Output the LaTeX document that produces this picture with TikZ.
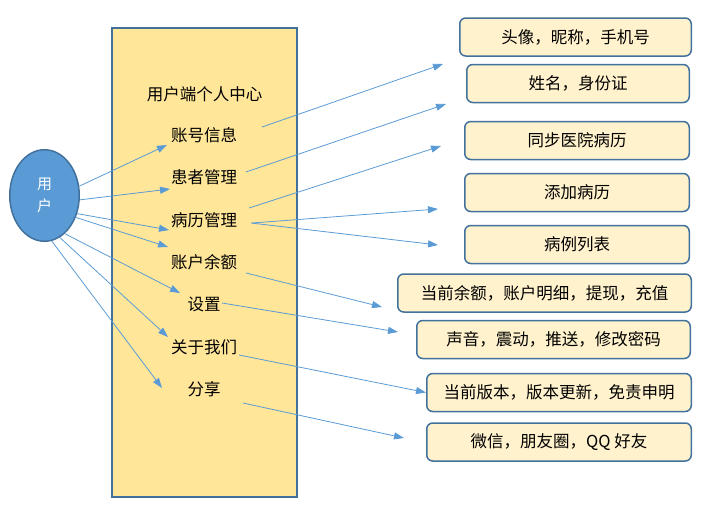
\documentclass[tikz,border=0pt]{standalone}
\usepackage{fontspec}
\newfontfamily\cjk{Noto Sans CJK SC}
\usetikzlibrary{arrows.meta,shapes.geometric}
\definecolor{panelfill}{HTML}{FFE699}
\definecolor{boxfill}{HTML}{FFF2CC}
\definecolor{edgeblue}{HTML}{41719C}
\definecolor{linkblue}{HTML}{5B9BD5}

\begin{document}
\begin{tikzpicture}[x=1pt, y=-1pt,
  item/.style={font=\cjk\fontsize{16.5}{18}\selectfont, inner sep=0pt},
  infobox/.style={draw=edgeblue, line width=1.5pt, fill=boxfill, rounded corners=6pt,
    minimum height=38, inner sep=0pt, font=\cjk\fontsize{16.5}{18}\selectfont},
  link/.style={draw=linkblue, line width=0.8pt, -{Triangle[length=10pt,width=7pt]}}]
  \useasboundingbox (0,0) rectangle (726,525);
  % centre panel
  \node[draw=edgeblue, line width=2pt, fill=panelfill, minimum width=185,
    minimum height=469, inner sep=0pt] (panel) at (204.5,262.5) {};
  \node[item] (title) at (204.5,94) {用户端个人中心};
  \foreach \n/\y/\t in {acct/135/账号信息, patient/177/患者管理, record/220/病历管理,
      balance/262/账户余额, settings/304/设置, about/347/关于我们, share/389/分享}
    \node[item] (\n) at (204,\y) {\t};
  % user
  \node[ellipse, draw=edgeblue, line width=1.5pt, fill=linkblue, minimum width=69.5,
    minimum height=91.5, inner sep=0pt, text=white, align=center,
    font=\cjk\fontsize{15}{22}\selectfont] (user) at (44.5,195.5) {用\\户};
  % detail boxes
  \foreach \n/\x/\y/\w/\t in {
      profile/575.5/37/231.5/{头像，昵称，手机号},
      identity/578/83.5/222.5/{姓名，身份证},
      sync/577/140.5/224.5/{同步医院病历},
      addrec/577/192.5/224.5/{添加病历},
      reclist/577/244.5/224.5/{病例列表},
      money/544.5/293/293.5/{当前余额，账户明细，提现，充值},
      sound/553.5/339.5/273.5/{声音，震动，推送，修改密码},
      version/559/392.5/264.5/{当前版本，版本更新，免责申明},
      social/559/442/264.5/{微信，朋友圈，QQ 好友}}
    \node[infobox, minimum width=\w] (\n) at (\x,\y) {\t};
  % user -> menu items
  \foreach \n/\a/\x/\y in {acct/15/167/145, patient/-7/170/189, record/-29/169/230,
      balance/-35/168/247, settings/-62/180/293, about/-70/168/337, share/-81/162/388} {
    \coordinate (\n-in) at (\x,\y);
    \draw[link] (user.\a) -- (\n-in);
  }
  % menu items -> details
  \foreach \n/\sx/\sy/\tx/\ty in {acct/262/127/443/64, patient/246/172/446/104,
      recA/249/208/441/146, recB/252/223/438/209, recC/251/223/438/245,
      balance/246/273/382/307, settings/222/303/398/332, share/243/403/404/438} {
    \coordinate (\n-out) at (\sx,\sy);
    \coordinate (\n-tip) at (\tx,\ty);
    \draw[link] (\n-out) -- (\n-tip);
  }
  \coordinate (about-out) at (239,355);
  \draw[link] (about-out) -- (version.west);
\end{tikzpicture}
\end{document}
